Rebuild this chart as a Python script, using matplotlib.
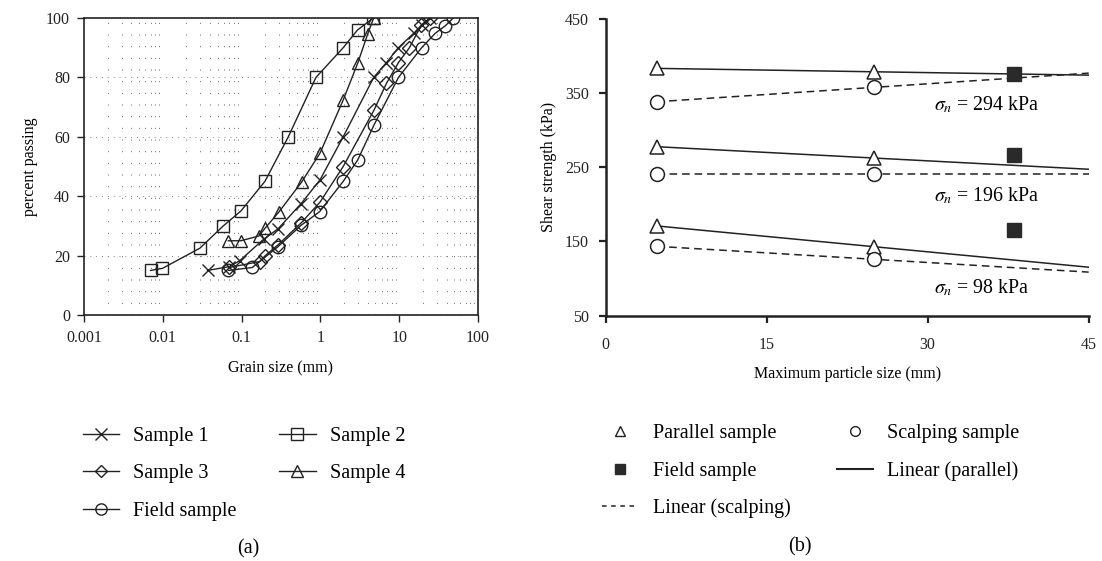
import numpy as np
import matplotlib
matplotlib.use("Agg")
import matplotlib.pyplot as plt
from matplotlib.lines import Line2D

plt.rcParams['font.family'] = ['Liberation Serif', 'DejaVu Serif']
plt.rcParams['mathtext.fontset'] = 'stix'
plt.rcParams['font.size'] = 11.5

INK = '#222222'

# ---------------- (a) grain size distribution ----------------
s1_x = [0.037, 0.07, 0.095, 0.19, 0.29, 0.57, 0.99, 1.95, 4.75, 6.9, 9.8, 15.5, 19.5, 24.6]
s1_y = [15, 16.3, 18.3, 25.5, 29, 37.5, 45.5, 60, 80, 85, 90, 95, 97.8, 100]
s2_x = [0.007, 0.0099, 0.0296, 0.0586, 0.098, 0.198, 0.392, 0.88, 1.95, 2.97, 4.7]
s2_y = [15, 15.7, 22.5, 30, 35, 45, 60, 80, 90, 96, 100]
s3_x = [0.07, 0.17, 0.2, 0.29, 0.57, 0.99, 1.95, 4.8, 6.9, 9.8, 13.5, 19, 24.6]
s3_y = [16, 18, 20, 23.6, 31, 38, 50, 69, 78, 85, 90, 97.5, 100]
s4_x = [0.068, 0.098, 0.166, 0.2, 0.3, 0.58, 0.99, 1.95, 2.97, 4, 4.75]
s4_y = [25, 25, 26.6, 29.3, 34.8, 44.8, 54.5, 72.4, 84.7, 94.7, 100]
fs_x = [0.068, 0.137, 0.29, 0.57, 0.98, 1.95, 2.98, 4.8, 9.8, 19.3, 28.6, 38.6, 48.6]
fs_y = [15, 16, 23, 30.2, 34.8, 45, 52.2, 64, 80, 90, 94.8, 97.4, 100]

# ---------------- (b) shear strength ----------------
dmax = [4.75, 25]
field_dmax = 38
parallel_294 = [383.4, 378.8]
parallel_196 = [277.8, 262.5]
parallel_98 = [171, 143]
scalping_294 = [338.4, 357.8]
scalping_196 = [241, 241]
scalping_98 = [143.5, 126]
field_vals = [375.7, 266.6, 165.5]
stress_labels = [r'$\sigma_n$ = 294 kPa', r'$\sigma_n$ = 196 kPa', r'$\sigma_n$ = 98 kPa']
label_pos = [(35.5, 334), (35.5, 212), (35.0, 87)]

LEG_FS = 14.5

fig = plt.figure(figsize=(11.02, 5.61), dpi=100)

# ---------- panel (a)
axa = fig.add_axes([0.0762, 0.4385, 0.3575, 0.5294])
axa.set_xscale('log')
axa.set_xlim(0.001, 100)
axa.set_ylim(0, 100)

minor_pos = [m * 10.0 ** k for k in range(-3, 2) for m in range(2, 10)]
for xv in minor_pos:
    axa.axvline(xv, color='#666666', lw=0.7, ls=(0, (1, 11)), zorder=0)
for yv in [20, 40, 60, 80]:
    axa.axhline(yv, color='#888888', lw=0.7, ls=(0, (1, 5)), zorder=0)

mk = dict(fillstyle='none', color=INK, lw=1.0, ms=9, mew=1.0)
l1, = axa.plot(s1_x, s1_y, marker='x', label='Sample 1', **mk)
l2, = axa.plot(s2_x, s2_y, marker='s', label='Sample 2', **mk)
l3, = axa.plot(s3_x, s3_y, marker='D', label='Sample 3', **{**mk, 'ms': 7})
l4, = axa.plot(s4_x, s4_y, marker='^', label='Sample 4', **mk)
l5, = axa.plot(fs_x, fs_y, marker='o', label='Field sample', **mk)

axa.set_xticks([0.001, 0.01, 0.1, 1, 10, 100])
axa.set_xticklabels(['0.001', '0.01', '0.1', '1', '10', '100'])
axa.xaxis.set_minor_locator(matplotlib.ticker.NullLocator())
axa.set_yticks([0, 20, 40, 60, 80, 100])
axa.tick_params(direction='out', length=5, width=1.0, colors=INK, pad=5)
axa.tick_params(axis='x', pad=6)
for sp in axa.spines.values():
    sp.set_linewidth(1.2)
    sp.set_color(INK)
axa.set_xlabel('Grain size (mm)', labelpad=10)
axa.set_ylabel('percent passing', labelpad=6)

fig.legend(handles=[l1, l3, l5, l2, l4], ncol=2, frameon=False,
           loc='upper left', bbox_to_anchor=(0.059, 0.271), fontsize=LEG_FS,
           handlelength=1.8, handletextpad=0.7, columnspacing=2.1,
           labelspacing=0.9, markerscale=0.9)
fig.text(0.225, 0.0214, '(a)', ha='center', va='center', fontsize=LEG_FS)

# ---------- panel (b)
axb = fig.add_axes([0.5496, 0.4373, 0.4383, 0.5289])
axb.set_xlim(0, 45)
axb.set_ylim(50, 450)
xfit = np.array([dmax[0], 45])
for par, sca, fv in [(parallel_294, scalping_294, field_vals[0]),
                     (parallel_196, scalping_196, field_vals[1]),
                     (parallel_98, scalping_98, field_vals[2])]:
    pp = np.polyfit(dmax, par, 1)
    ps = np.polyfit(dmax, sca, 1)
    axb.plot(xfit, np.polyval(pp, xfit), color=INK, lw=1.1, zorder=2)
    axb.plot(xfit, np.polyval(ps, xfit), color=INK, lw=1.1, ls=(0, (5, 3.2)), zorder=2)
    axb.plot(dmax, par, ls='none', marker='^', ms=10, mfc='white', mec=INK, mew=1.1, zorder=3)
    axb.plot(dmax, sca, ls='none', marker='o', ms=10, mfc='white', mec=INK, mew=1.1, zorder=3)
    axb.plot([field_dmax], [fv], ls='none', marker='s', ms=10, color='#2a2a2a', zorder=4)
for txt, (tx, ty) in zip(stress_labels, label_pos):
    axb.text(tx, ty, txt, ha='center', va='center', fontsize=14.3)

axb.set_xticks([0, 15, 30, 45])
axb.set_yticks([50, 150, 250, 350, 450])
axb.spines['top'].set_visible(False)
axb.spines['right'].set_visible(False)
for sp in ['left', 'bottom']:
    axb.spines[sp].set_linewidth(1.8)
    axb.spines[sp].set_color(INK)
axb.tick_params(direction='out', length=5, width=1.6, colors=INK, pad=7)
axb.tick_params(axis='x', pad=10)
axb.set_xlabel('Maximum particle size (mm)', labelpad=10)
axb.set_ylabel('Shear strength (kPa)', labelpad=6)

h_par = Line2D([], [], ls='none', marker='^', ms=7, mfc='white', mec=INK, mew=1.0)
h_sca = Line2D([], [], ls='none', marker='o', ms=7, mfc='white', mec=INK, mew=1.0)
h_fld = Line2D([], [], ls='none', marker='s', ms=7, color='#2a2a2a')
h_lp = Line2D([], [], color=INK, lw=1.5)
h_ls = Line2D([], [], color=INK, lw=1.1, ls=(0, (3, 3)))
fig.legend(handles=[h_par, h_fld, h_ls, h_sca, h_lp],
           labels=['Parallel sample', 'Field sample', 'Linear (scalping)',
                   'Scalping sample', 'Linear (parallel)'],
           ncol=2, frameon=False, loc='upper left', bbox_to_anchor=(0.530, 0.276),
           fontsize=LEG_FS, handlelength=1.8, handletextpad=0.7,
           columnspacing=2.3, labelspacing=0.9)
fig.text(0.726, 0.025, '(b)', ha='center', va='center', fontsize=LEG_FS)

fig.savefig('out.png', dpi=100)
